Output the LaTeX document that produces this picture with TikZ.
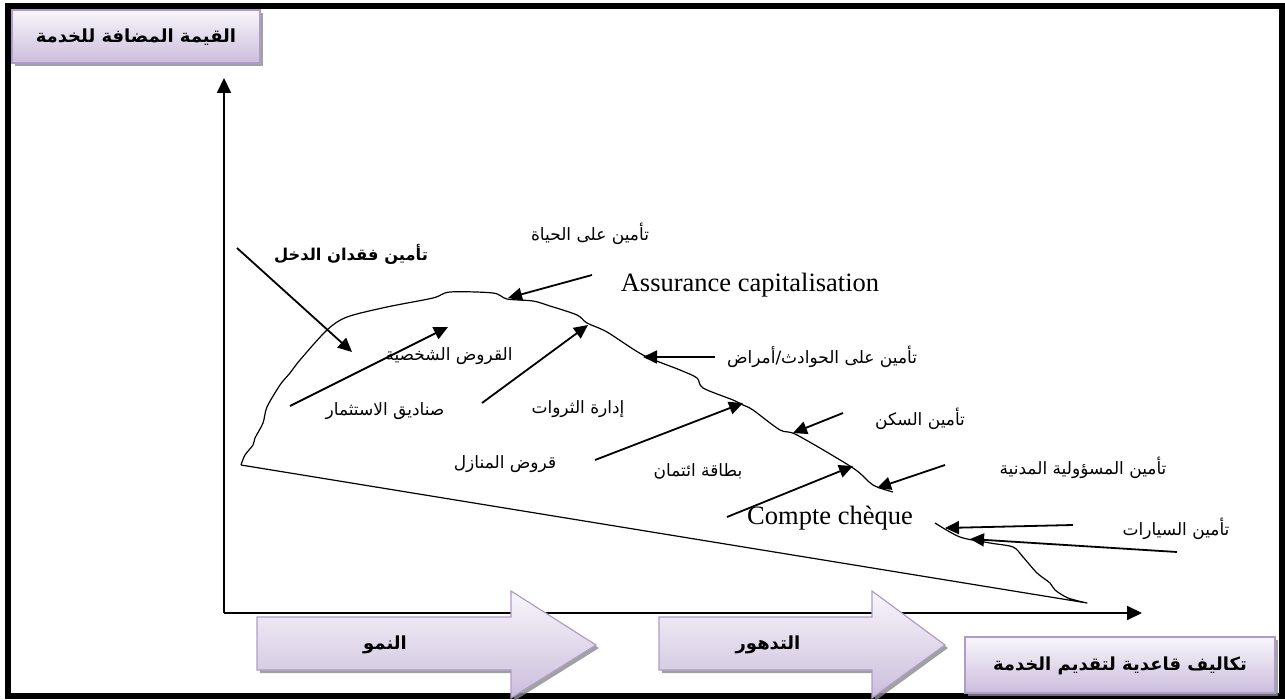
\documentclass[tikz,border=0pt]{standalone}
\usepackage{fontspec}
\setmainfont{Liberation Serif}
\newfontfamily\ar[Script=Arabic]{DejaVu Sans}
\TeXXeTstate=1
\usetikzlibrary{arrows.meta,shadows}
\definecolor{boxtop}{HTML}{F8F6FB}
\definecolor{boxbot}{HTML}{CBBDDC}
\definecolor{boxline}{HTML}{B09CC8}
\definecolor{shadowc}{HTML}{8A8A8A}
\tikzset{
  ptr/.style={line width=1.8pt,-{Triangle[length=14pt,width=13pt]}},
  axisline/.style={line width=2pt,-{Triangle[length=15pt,width=14pt]}},
  lbl/.style={font=\ar\fontsize{17}{20}\selectfont, inner sep=0pt},
  blbl/.style={font=\ar\bfseries\fontsize{16.3}{19}\selectfont, inner sep=0pt},
  hbl/.style={font=\ar\bfseries\fontsize{18}{21}\selectfont, inner sep=0pt},
  latin/.style={font=\fontsize{26.5}{30}\selectfont, inner sep=0pt},
  pbox/.style={draw=boxline, line width=1.2pt, top color=boxtop, bottom color=boxbot,
    drop shadow={shadow xshift=3pt, shadow yshift=-3pt, fill=shadowc, opacity=0.8}},
  curveline/.style={line width=1.2pt, line join=round},
}
\begin{document}
\begin{tikzpicture}[x=1pt,y=-1pt]
\useasboundingbox (0,0) rectangle (1285,700);
% frame
\draw[line width=6pt] (8,6) rectangle (1282,696);

% title boxes
\node[pbox, minimum width=248pt, minimum height=53pt, inner sep=0pt] (ylab) at (136,36.5) {};
\node[hbl] (ylabt) at (136,37) {\beginR القيمة المضافة للخدمة\endR};
\node[pbox, minimum width=310pt, minimum height=56pt, inner sep=0pt] (xlab) at (1120,665) {};
\node[hbl] (xlabt) at (1120,666) {\beginR تكاليف قاعدية لتقديم الخدمة\endR};

% axes
\coordinate (O) at (224,613);
\coordinate (ytip) at (224,78);
\coordinate (xtip) at (1142,613);
\draw[axisline] (O) -- (ytip);
\draw[axisline] (O) -- (xtip);

% big phase arrows
\draw[pbox] (257,617) -- (511,617) -- (511,591) -- (596,645) -- (511,698) -- (511,670) -- (257,670) -- cycle;
\node[hbl] (grow) at (385,645) {\beginR النمو\endR};
\draw[pbox] (659,617) -- (872,617) -- (872,591) -- (945,645) -- (872,698) -- (872,670) -- (659,670) -- cycle;
\node[hbl] (decl) at (768,645) {\beginR التدهور\endR};

% life cycle curve
\draw[curveline] plot[smooth, tension=0.5] coordinates {(241,465) (245,455) (253,445) (255,438) (263,423) (267,407) (280,385) (290,373) (300,360) (327,330) (347,317) (387,307) (433,298) (450,292) (493,293) (507,299) (533,301) (550,306) (577,315) (587,323) (607,332) (643,355) (680,370) (697,378) (703,388) (733,400) (743,405) (753,410) (780,430) (797,435) (853,468) (873,485) (893,492)};
\draw[curveline] plot[smooth, tension=0.5] coordinates {(935,523) (960,537) (990,543) (1013,547) (1023,557) (1037,573) (1050,583) (1055,590) (1068,598) (1087,603)} -- (241,465);

% labels
\node[blbl] (l1) at (351,254) {\beginR تأمين فقدان الدخل\endR};
\node[lbl] (l2) at (590,234) {\beginR تأمين على الحياة\endR};
\node[latin] (l3) at (750,285) {Assurance capitalisation};
\node[lbl] (l4) at (449,356) {\beginR القروض الشخصية\endR};
\node[lbl] (l5) at (385,411) {\beginR صناديق الاستثمار\endR};
\node[lbl] (l6) at (578,409) {\beginR إدارة الثروات\endR};
\node[lbl] (l7) at (822,357) {\beginR تأمين على الحوادث/أمراض\endR};
\node[lbl] (l8) at (505,464) {\beginR قروض المنازل\endR};
\node[lbl] (l9) at (698,471) {\beginR بطاقة ائتمان\endR};
\node[lbl] (l10) at (920,419) {\beginR تأمين السكن\endR};
\node[lbl] (l11) at (1083,468) {\beginR تأمين المسؤولية المدنية\endR};
\node[lbl] (l12) at (1176,529) {\beginR تأمين السيارات\endR};
\node[latin] (l13) at (830,518) {Compte chèque};

% pointer arrows
\coordinate (a1s) at (237,248);  \coordinate (a1e) at (352,352);
\coordinate (a2s) at (290,406);  \coordinate (a2e) at (448,327);
\coordinate (a3s) at (482,403);  \coordinate (a3e) at (588,325);
\coordinate (a4s) at (592,275);  \coordinate (a4e) at (508,298);
\coordinate (a5s) at (715,357);  \coordinate (a5e) at (643,357);
\coordinate (a6s) at (595,460);  \coordinate (a6e) at (743,403);
\coordinate (a7s) at (843,413);  \coordinate (a7e) at (793,433);
\coordinate (a8s) at (727,517);  \coordinate (a8e) at (853,466);
\coordinate (a9s) at (945,465);  \coordinate (a9e) at (877,488);
\coordinate (a10s) at (1073,525); \coordinate (a10e) at (945,528);
\coordinate (a11s) at (1177,552); \coordinate (a11e) at (970,539);
\foreach \i in {1,...,11} \draw[ptr] (a\i s) -- (a\i e);
\end{tikzpicture}
\end{document}
